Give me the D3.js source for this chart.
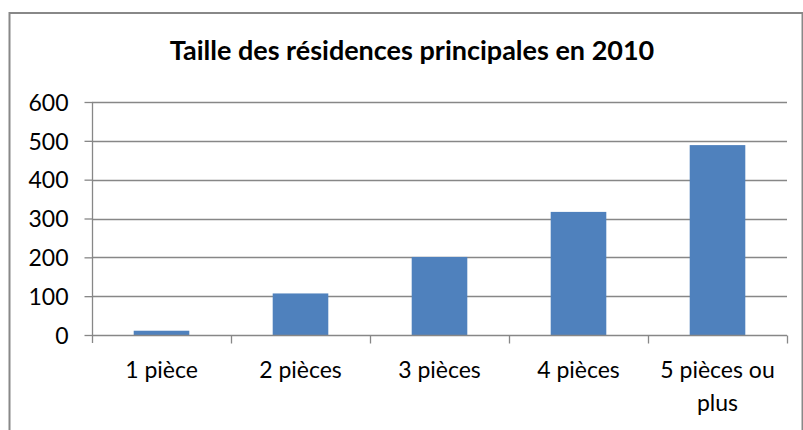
<!DOCTYPE html>
<html>
<head>
<meta charset="utf-8">
<script src="https://cdn.jsdelivr.net/npm/d3@7"></script>
<style>
  body { margin: 0; background: #fff; }
  text { font-family: Lato, "Open Sans", sans-serif; fill: #000; }
</style>
</head>
<body>
<div id="chart"></div>
<script>
// data
const categories = ["1 pièce", "2 pièces", "3 pièces", "4 pièces", "5 pièces ou plus"];
const values = [11, 107, 201, 317, 489];
const yTicks = [0, 100, 200, 300, 400, 500, 600];
const title = "Taille des résidences principales en 2010";

const width = 803, height = 430;
const plot = { left: 92, right: 787, top: 102, bottom: 335 };

let svg = d3.select("#chart")
    .append("svg")
    .attr("width", width)
    .attr("height", height);

// outer frame
svg.append("rect")
    .attr("x", 9.5).attr("y", 13)
    .attr("width", 793).attr("height", 440)
    .attr("fill", "none")
    .attr("stroke", "#888")
    .attr("stroke-width", 2);

let y = d3.scaleLinear()
    .domain([0, 600])
    .range([plot.bottom, plot.top]);

// one band per category, no padding: ticks on its edges
let xCat = d3.scaleBand()
    .domain(categories)
    .range([plot.left, plot.right]);

let xBar = d3.scaleBand()
    .domain(categories)
    .range([plot.left, plot.right])
    .paddingInner(0.6)
    .paddingOuter(0.3);

// gridlines
svg.append("g")
    .selectAll("line")
    .data(yTicks.filter(d => d > 0))
    .enter()
    .append("line")
    .attr("x1", plot.left).attr("x2", plot.right)
    .attr("y1", d => Math.round(y(d)) + 0.5)
    .attr("y2", d => Math.round(y(d)) + 0.5)
    .attr("stroke", "#878787")
    .attr("stroke-width", 1.3);

// bars
svg.append("g")
    .selectAll("rect")
    .data(values)
    .enter()
    .append("rect")
    .attr("x", (d, i) => xBar(categories[i]))
    .attr("y", d => y(d))
    .attr("width", xBar.bandwidth())
    .attr("height", d => y(0) - y(d))
    .attr("fill", "#4F81BD");

// y axis
let yAxis = svg.append("g")
    .attr("transform", `translate(${plot.left + 0.5},0)`)
    .call(d3.axisLeft(y).tickValues(yTicks).tickSize(8).tickPadding(16).tickSizeOuter(0));
yAxis.select(".domain").attr("stroke", "#878787").attr("stroke-width", 1.3)
    .attr("d", `M0,${plot.top}V${plot.bottom + 8}`);
yAxis.selectAll(".tick line").attr("stroke", "#878787").attr("stroke-width", 1.3);
yAxis.selectAll(".tick text")
    .style("font-size", "23px")
    .attr("dy", "0.36em");

// x axis
let xAxis = svg.append("g")
    .attr("transform", `translate(0,${Math.round(plot.bottom) + 0.5})`);
xAxis.append("line")
    .attr("x1", plot.left).attr("x2", plot.right)
    .attr("stroke", "#878787").attr("stroke-width", 1.3);
let xEdges = categories.map(c => xCat(c) + xCat.bandwidth());
xAxis.selectAll(".xtick")
    .data(xEdges)
    .enter()
    .append("line")
    .attr("class", "xtick")
    .attr("x1", d => Math.round(d) + 0.5).attr("x2", d => Math.round(d) + 0.5)
    .attr("y1", 0).attr("y2", 8)
    .attr("stroke", "#878787").attr("stroke-width", 1.3);

// category labels, wrapped like the original
let labelLines = { "5 pièces ou plus": ["5 pièces ou", "plus"] };
let labels = xAxis.selectAll(".xlabel")
    .data(categories)
    .enter()
    .append("text")
    .attr("class", "xlabel")
    .attr("text-anchor", "middle")
    .style("font-size", "23px")
    .attr("transform", d => `translate(${xCat(d) + xCat.bandwidth() / 2},42)`);
labels.each(function(d) {
    let lines = labelLines[d] || [d];
    d3.select(this).selectAll("tspan")
        .data(lines)
        .enter()
        .append("tspan")
        .attr("x", 0)
        .attr("y", (l, i) => i * 33)
        .text(l => l);
});

// title
svg.append("text")
    .attr("x", 412)
    .attr("y", 60)
    .attr("text-anchor", "middle")
    .style("font-size", "27px")
    .style("font-weight", "bold")
    .text(title);
</script>
</body>
</html>
